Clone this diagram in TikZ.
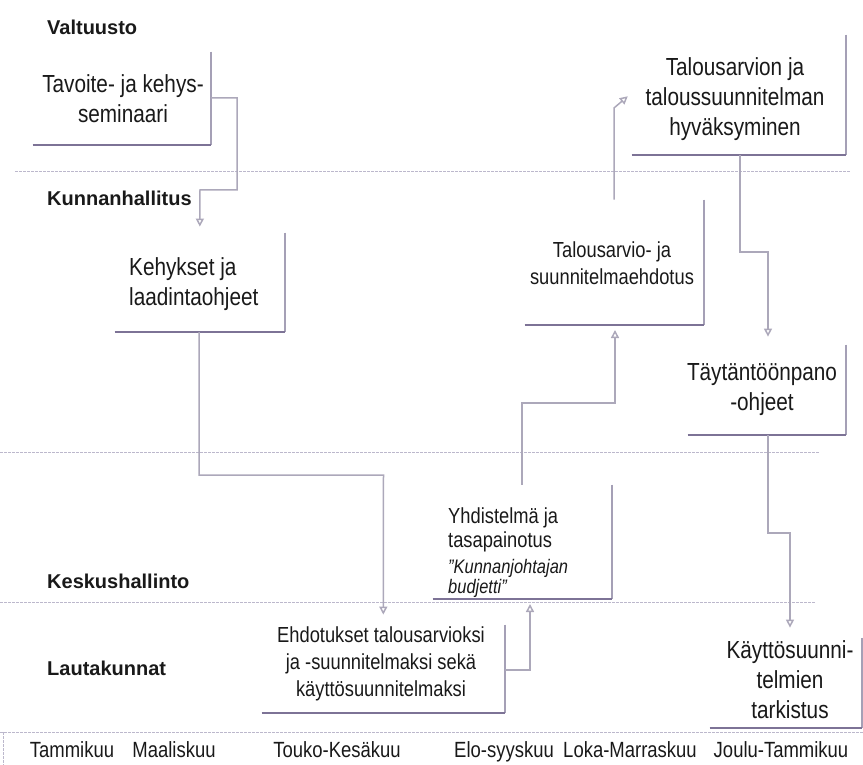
\documentclass[tikz,border=0pt]{standalone}
\usepackage{fontspec}
\setmainfont[FakeStretch=0.84]{Liberation Sans}
\newfontfamily\headfont{Liberation Sans}
\usetikzlibrary{arrows.meta}
\definecolor{ink}{RGB}{25,25,25}
\definecolor{bedgecol}{RGB}{125,115,150}
\definecolor{redgecol}{RGB}{165,160,182}
\definecolor{conncol}{RGB}{172,168,186}
\definecolor{lanecol}{RGB}{188,184,204}
\tikzset{
  x=1pt, y=-1pt,
  bigtxt/.style={font=\fontsize{24.7}{30}\selectfont, text=ink, inner sep=0pt, align=center},
  smalltxt/.style={font=\fontsize{21.8}{27}\selectfont, text=ink, inner sep=0pt, align=center},
  ittxt/.style={font=\itshape\fontsize{19.6}{20}\selectfont, text=ink, inner sep=0pt, align=left},
  monthtxt/.style={font=\fontsize{22}{24}\selectfont, text=ink, inner sep=0pt, anchor=base},
  head/.style={font=\headfont\bfseries\fontsize{20}{24}\selectfont, text=ink, inner sep=0pt, anchor=west},
  area/.style={draw=none, inner sep=0pt, anchor=south east},
  redge/.style={draw=redgecol, line width=1.4pt},
  bedge/.style={draw=bedgecol, line width=1.5pt},
  conn/.style={draw=conncol, line width=1.5pt, -{Triangle[open,length=8pt,width=8pt]}},
  lane/.style={draw=lanecol, line width=1pt, dash pattern=on 3pt off 1pt},
}
\begin{document}
\begin{tikzpicture}
\useasboundingbox (0,0) rectangle (863,765);

% lane separators
\draw[lane] (15,172) -- (850,172);
\draw[lane] (0,452) -- (820,452);
\draw[lane] (0,602) -- (815,602);
\draw[lane] (0,732) -- (863,732);
\draw[lane] (3,732) -- (3,765);

% lane headings
\node[head] (hv) at (47,27) {Valtuusto};
\node[head] (hk) at (47,198) {Kunnanhallitus};
\node[head] (hks) at (47,581) {Keskushallinto};
\node[head] (hl) at (47,668) {Lautakunnat};

% box areas
\node[area, minimum width=178pt, minimum height=93pt] (b1) at (211,145) {};
\node[area, minimum width=170pt, minimum height=99pt] (b2) at (285,332) {};
\node[area, minimum width=243pt, minimum height=88pt] (b3) at (505,713) {};
\node[area, minimum width=179pt, minimum height=114pt] (b4) at (612,599) {};
\node[area, minimum width=179pt, minimum height=125pt] (b5) at (704,325) {};
\node[area, minimum width=214pt, minimum height=120pt] (b6) at (846,155) {};
\node[area, minimum width=158pt, minimum height=90pt] (b7) at (846,435) {};
\node[area, minimum width=152pt, minimum height=90pt] (b8) at (862,728) {};

\foreach \b in {b1,b2,b3,b4,b5,b6,b7,b8}{
  \draw[redge] (\b.north east) -- (\b.south east);
  \draw[bedge] (\b.south west) -- (\b.south east);
}

% texts
\node[bigtxt] (t1) at (123,99) {Tavoite- ja kehys-\\seminaari};
\node[bigtxt, align=left, anchor=west] (t2) at (129,284) {Kehykset ja\\laadintaohjeet};
\node[smalltxt] (t3) at (381,664) {Ehdotukset talousarvioksi\\ja -suunnitelmaksi sekä\\käyttösuunnitelmaksi};
\node[smalltxt, align=left, anchor=west, font=\fontsize{21.8}{24}\selectfont] (t4a) at (448,530) {Yhdistelmä ja\\tasapainotus};
\node[ittxt, anchor=west] (t4b) at (448,578) {\symbol{"22}Kunnanjohtajan\\budjetti\symbol{"22}};
\node[smalltxt] (t5) at (612,263) {Talousarvio- ja\\suunnitelmaehdotus};
\node[bigtxt] (t6) at (735,99) {Talousarvion ja\\taloussuunnitelman\\hyväksyminen};
\node[bigtxt] (t7) at (762,390) {Täytäntöönpano\\-ohjeet};
\node[bigtxt] (t8) at (790,680) {Käyttösuunni-\\telmien\\tarkistus};

% months
\node[monthtxt] (m1) at (72,757) {Tammikuu};
\node[monthtxt] (m2) at (174,757) {Maaliskuu};
\node[monthtxt] (m3) at (337,757) {Touko-Kesäkuu};
\node[monthtxt] (m4) at (504,757) {Elo-syyskuu};
\node[monthtxt] (m5) at (630,757) {Loka-Marraskuu};
\node[monthtxt] (m6) at (781,757) {Joulu-Tammikuu};

% connectors
\draw[conn, shorten >=6pt] (b1.east |- 0,98) -- (237,98) -- (237,190) -- (200,190) -- (b2.north);
\draw[conn, shorten >=10pt] (b2.south -| 199,0) -- (199,475) -- (383.5,475) -- (b3.north);
\draw[conn, shorten >=5pt] (b3.east |- 0,670) -- (530,670) -- (b4.south -| 530,0);
\draw[conn, shorten >=5pt] (b4.north -| 522,0) -- (522,403) -- (615,403) -- (b5.south -| 615,0);
\draw[conn, shorten >=5pt] (b5.north -| 614,0) -- (614,108) -- (b6.west |- 0,93);
\draw[conn, shorten >=8pt] (b6.south -| 740,0) -- (740,252) -- (768,252) -- (b7.north -| 768,0);
\draw[conn, shorten >=10pt] (b7.south -| 768,0) -- (768,533) -- (790,533) -- (b8.north -| 790,0);
\end{tikzpicture}
\end{document}
